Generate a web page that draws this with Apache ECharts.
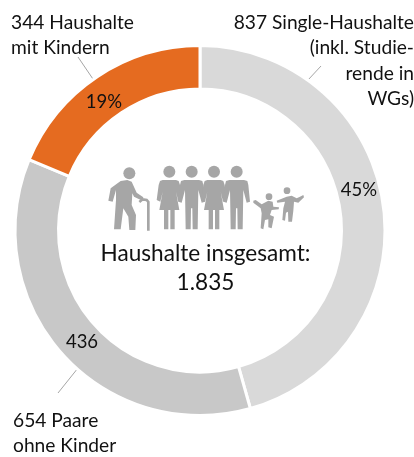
<!DOCTYPE html>
<html><head><meta charset="utf-8">
<style>html,body{margin:0;padding:0;background:#fff}#c{width:414px;height:457px}</style>
<script src="https://cdn.jsdelivr.net/npm/echarts@6/dist/echarts.min.js"></script>
</head><body><div id="c"></div>
<script>
const categories = ['Single-Haushalte', 'Paare ohne Kinder', 'Haushalte mit Kindern'];
const householdCounts = [837, 654, 344];
const sliceLabels = ['45%', '436', '19%'];
const outerLabels = ['837 Single-Haushalte\n(inkl. Studie-\nrende in\nWGs)', '654 Paare\nohne Kinder', '344 Haushalte\nmit Kindern'];
const totalLabel = 'Haushalte insgesamt:\n1.835';
const sliceColors = ['#d9d9d9', '#c8c8c8', '#e56b20'];

const FONT = 'Lato, Carlito, sans-serif';
const ICON = '#a6a6a6';
const chart = echarts.init(document.getElementById('c'), null, {renderer: 'canvas'});

const femaleShape = [[-20,90],[20,90],[28,93],[32,105],[38,150],[27,155],[20,125],[30,180],[16,180],[16,238],[3,238],[3,180],[-3,180],[-3,238],[-16,238],[-16,180],[-30,180],[-20,125],[-27,155],[-38,150],[-32,105],[-28,93]];
const maleShape = [[-22,90],[22,90],[32,93],[35,105],[40,155],[30,158],[20,120],[18,238],[3,238],[2,175],[-2,175],[-3,238],[-18,238],[-20,120],[-30,158],[-40,155],[-35,105],[-32,93]];
const at = (s, c) => s.map(p => [p[0] + c, p[1]]);
const polys = [
  [[92,93],[112,90],[125,95],[140,128],[160,142],[157,152],[132,140],[127,130],[125,165],[138,195],[136,240],[118,240],[115,200],[100,175],[92,238],[72,238],[78,150],[78,120],[68,155],[55,152],[62,115]],
  at(femaleShape, 238), at(maleShape, 305), at(femaleShape, 372), at(maleShape, 440),
  [[490,152],[497,150],[515,163],[535,152],[548,155],[550,170],[567,172],[566,178],[545,180],[540,195],[552,200],[545,235],[535,232],[535,208],[525,210],[520,238],[512,235],[515,190],[512,175],[490,158]],
  [[560,152],[590,140],[605,137],[620,145],[630,140],[640,135],[642,142],[625,158],[612,155],[610,182],[606,215],[595,215],[594,185],[588,188],[585,212],[577,210],[580,175],[585,155],[562,158]]
];
const heads = [[118,70,18],[238,65,18],[305,65,18],[372,65,18],[440,65,18],[537,140,10],[591,122,10]];
const cane = [[148,156],[158,148],[170,150],[175,156],[175,242]];
const iconChildren = polys.map(pts => ({type: 'polygon', shape: {points: pts}, style: {fill: ICON}}))
  .concat(heads.map(h => ({type: 'circle', shape: {cx: h[0], cy: h[1], r: h[2]}, style: {fill: ICON}})))
  .concat([{type: 'polyline', shape: {points: cane}, style: {fill: null, stroke: ICON, lineWidth: 8}}]);

const leaderLines = [[308,80,321,66],[78,368,58,393],[95,82,78,57]];
const labelAnchors = [
  {x: 414, y: 10, align: 'right'},
  {x: 13, y: 408, align: 'left'},
  {x: 11, y: 10, align: 'left'}
];
const sliceLabelPos = [[359,190],[82,342],[104,102]];

chart.setOption({
  animation: false,
  backgroundColor: '#fff',
  series: [{
    type: 'pie',
    center: [200, 230.5],
    radius: [141.5, 185],
    startAngle: 90,
    clockwise: true,
    silent: true,
    itemStyle: {borderColor: '#fff', borderWidth: 3},
    label: {show: true, position: 'inside', color: '#111', fontFamily: FONT, fontSize: 18.5,
      formatter: p => sliceLabels[p.dataIndex]},
    labelLine: {show: false},
    labelLayout: p => ({x: sliceLabelPos[p.dataIndex][0], y: sliceLabelPos[p.dataIndex][1], align: 'center', verticalAlign: 'middle'}),
    data: categories.map((n, i) => ({name: n, value: householdCounts[i], itemStyle: {color: sliceColors[i]}}))
  }],
  graphic: [
    {type: 'group', x: 90, y: 150, scaleX: 1/3, scaleY: 1/3, children: iconChildren},
    {type: 'text', x: 205.5, y: 268.5, style: {text: totalLabel, font: '22.6px ' + FONT, fill: '#111', align: 'center', verticalAlign: 'middle', lineHeight: 29}}
  ].concat(leaderLines.map(l => ({type: 'line', shape: {x1: l[0], y1: l[1], x2: l[2], y2: l[3]}, style: {stroke: '#a6a6a6', lineWidth: 1}})))
   .concat(outerLabels.map((t, i) => ({type: 'text', x: labelAnchors[i].x, y: labelAnchors[i].y,
     style: {text: t, font: '19.2px ' + FONT, fill: '#111', align: labelAnchors[i].align, verticalAlign: 'top', lineHeight: 25.5}})))
});
</script></body></html>
